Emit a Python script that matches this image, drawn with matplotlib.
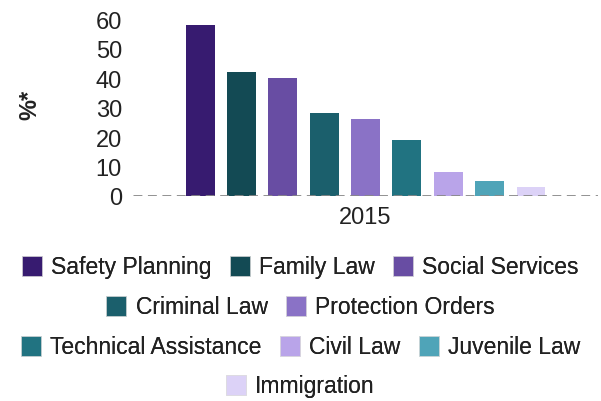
import matplotlib.pyplot as plt
from matplotlib.patches import Patch

plt.rcParams['font.family'] = ['Liberation Sans', 'DejaVu Sans']

# Daten
categories = ['Safety Planning', 'Family Law', 'Social Services', 'Criminal Law',
              'Protection Orders', 'Technical Assistance', 'Civil Law',
              'Juvenile Law', 'Immigration']
values = [58, 42, 40, 28, 26, 19, 8, 5, 3]
colors = ['#371b70', '#134a54', '#684da3', '#1b5f6c', '#8a72c6',
          '#217381', '#b9a4e9', '#4fa4b8', '#dcd2f7']
year_label = '2015'
y_ticks = [0, 10, 20, 30, 40, 50, 60]
legend_rows = [[0, 1, 2], [3, 4], [5, 6, 7], [8]]

fig = plt.figure(figsize=(6.01, 4.02), dpi=100)
ax = fig.add_axes([0.2213, 0.51, 0.774, 0.44])

n = len(values)
step = 0.8 / n
for i, (v, c) in enumerate(zip(values, colors)):
    ax.bar((i - (n - 1) / 2) * step, v, width=step * 0.7, color=c, zorder=2)

ax.axhline(0, color='#888888', linestyle=(0, (3.2, 2)), linewidth=2, zorder=3)

ax.set_xlim(-0.5, 0.5)
ax.set_ylim(0, 60)
ax.set_yticks(y_ticks)
ax.set_xticks([0])
ax.set_xticklabels([year_label])
ax.tick_params(axis='both', length=0, labelsize=17, colors='#222222')
ax.tick_params(axis='y', pad=8)
ax.tick_params(axis='x', pad=7)
for s in ax.spines.values():
    s.set_visible(False)

fig.text(0.05, 0.74, '%*', rotation=90, fontsize=17, fontweight='bold',
         ha='center', va='center', color='#222222')

# Legende in zentrierten Zeilen
row_y = [1 - 268 / 402, 1 - 308 / 402, 1 - 348 / 402, 1 - 387 / 402]
for row, y in zip(legend_rows, row_y):
    handles = [Patch(facecolor=colors[k], edgecolor='#dddddd', linewidth=0.5) for k in row]
    labels = [categories[k] for k in row]
    leg = fig.legend(handles, labels, loc='center', bbox_to_anchor=(0.5, y),
                     ncol=len(row), frameon=False, fontsize=16.5,
                     handlelength=0.87, handleheight=0.95, handletextpad=0.4,
                     columnspacing=0.8, borderpad=0, borderaxespad=0)
    for t in leg.get_texts():
        t.set_color('#222222')
    fig.add_artist(leg)

fig.savefig('out.png', dpi=100)
